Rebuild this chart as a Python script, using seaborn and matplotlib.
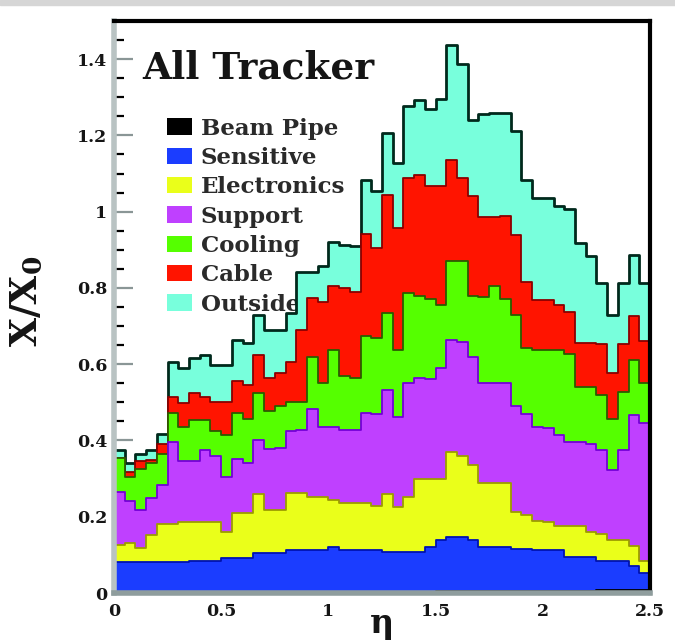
import numpy as np
import pandas as pd
import matplotlib
matplotlib.use("Agg")
import matplotlib.pyplot as plt
from matplotlib.patches import Patch, Rectangle
import seaborn as sns

# pseudorapidity binning
eta_min, eta_max, n_bins = 0.0, 2.5, 50
eta_edges = np.linspace(eta_min, eta_max, n_bins + 1)
eta_centers = 0.5 * (eta_edges[:-1] + eta_edges[1:])

# material budget per category (X/X0) in each eta bin
beam_pipe = [
    0.003, 0.003, 0.003, 0.003, 0.003, 0.003, 0.003, 0.003, 0.003, 0.003,
    0.003, 0.003, 0.003, 0.003, 0.003, 0.003, 0.003, 0.003, 0.003, 0.003,
    0.003, 0.003, 0.003, 0.003, 0.003, 0.003, 0.003, 0.003, 0.003, 0.003,
    0.004, 0.004, 0.004, 0.004, 0.004, 0.004, 0.004, 0.004, 0.004, 0.004,
    0.004, 0.004, 0.004, 0.004, 0.004, 0.007, 0.007, 0.007, 0.007, 0.007,
]
sensitive = [
    0.077, 0.077, 0.077, 0.077, 0.077, 0.077, 0.077, 0.082, 0.082, 0.082,
    0.090, 0.090, 0.090, 0.101, 0.101, 0.101, 0.109, 0.109, 0.109, 0.109,
    0.117, 0.110, 0.110, 0.110, 0.110, 0.105, 0.105, 0.105, 0.105, 0.117,
    0.134, 0.144, 0.144, 0.134, 0.116, 0.116, 0.116, 0.112, 0.112, 0.108,
    0.108, 0.108, 0.090, 0.090, 0.090, 0.076, 0.076, 0.076, 0.063, 0.045,
]
electronics = [
    0.045, 0.052, 0.038, 0.072, 0.101, 0.101, 0.107, 0.102, 0.102, 0.102,
    0.068, 0.116, 0.116, 0.156, 0.114, 0.114, 0.150, 0.150, 0.141, 0.141,
    0.124, 0.123, 0.123, 0.123, 0.114, 0.152, 0.118, 0.145, 0.192, 0.180,
    0.162, 0.222, 0.212, 0.197, 0.169, 0.169, 0.169, 0.097, 0.089, 0.078,
    0.075, 0.063, 0.081, 0.081, 0.066, 0.072, 0.057, 0.057, 0.052, 0.033,
]
support = [
    0.140, 0.110, 0.100, 0.098, 0.102, 0.216, 0.158, 0.158, 0.188, 0.173,
    0.144, 0.143, 0.133, 0.140, 0.160, 0.162, 0.163, 0.166, 0.229, 0.183,
    0.192, 0.192, 0.192, 0.236, 0.243, 0.273, 0.236, 0.297, 0.265, 0.260,
    0.290, 0.294, 0.298, 0.285, 0.261, 0.261, 0.261, 0.277, 0.265, 0.245,
    0.246, 0.240, 0.222, 0.222, 0.230, 0.220, 0.183, 0.235, 0.345, 0.361,
]
cooling = [
    0.088, 0.063, 0.107, 0.090, 0.082, 0.075, 0.091, 0.109, 0.079, 0.064,
    0.110, 0.120, 0.113, 0.125, 0.099, 0.110, 0.077, 0.074, 0.138, 0.114,
    0.201, 0.140, 0.135, 0.201, 0.198, 0.201, 0.175, 0.237, 0.215, 0.212,
    0.166, 0.206, 0.212, 0.158, 0.225, 0.254, 0.222, 0.240, 0.172, 0.203,
    0.205, 0.223, 0.230, 0.144, 0.151, 0.144, 0.134, 0.152, 0.145, 0.105,
]
cable = [
    0.002, 0.013, 0.020, 0.009, 0.025, 0.043, 0.062, 0.070, 0.061, 0.078,
    0.087, 0.085, 0.090, 0.100, 0.086, 0.086, 0.105, 0.188, 0.153, 0.213,
    0.167, 0.232, 0.227, 0.269, 0.237, 0.311, 0.320, 0.301, 0.317, 0.294,
    0.310, 0.266, 0.218, 0.262, 0.210, 0.181, 0.216, 0.210, 0.173, 0.131,
    0.131, 0.118, 0.111, 0.115, 0.115, 0.133, 0.120, 0.125, 0.114, 0.109,
]
outside = [
    0.020, 0.022, 0.020, 0.026, 0.027, 0.092, 0.091, 0.092, 0.110, 0.096,
    0.096, 0.107, 0.110, 0.105, 0.127, 0.114, 0.127, 0.153, 0.070, 0.095,
    0.116, 0.113, 0.120, 0.142, 0.148, 0.162, 0.171, 0.190, 0.195, 0.204,
    0.230, 0.300, 0.298, 0.200, 0.270, 0.275, 0.270, 0.271, 0.269, 0.267,
    0.267, 0.260, 0.269, 0.262, 0.227, 0.162, 0.153, 0.162, 0.161, 0.154,
]

categories = ["Beam Pipe", "Sensitive", "Electronics", "Support",
              "Cooling", "Cable", "Outside"]
fill_colors = ["#000000", "#1b3dff", "#eaff1a", "#bf40ff",
               "#55ff00", "#ff1400", "#78ffdc"]
edge_colors = ["#000000", "#0012b0", "#9c9c00", "#7400d8",
               "#2b5c00", "#8a0000", "#00291c"]

y_ticks = [0, 0.2, 0.4, 0.6, 0.8, 1.0, 1.2, 1.4]
y_ticklabels = ["0", "0.2", "0.4", "0.6", "0.8", "1", "1.2", "1.4"]
x_ticks = [0, 0.5, 1.0, 1.5, 2.0, 2.5]
x_ticklabels = ["0", "0.5", "1", "1.5", "2", "2.5"]

sns.set_theme(style="white")
plt.rcParams["font.family"] = ["DejaVu Serif"]
plt.rcParams["font.weight"] = "bold"
plt.rcParams["mathtext.fontset"] = "dejavuserif"
text_color = "#151515"

fig = plt.figure(figsize=(6.75, 6.44), dpi=100)
fig.patches.append(Rectangle((0, 1 - 5 / 644), 1, 5 / 644,
                             transform=fig.transFigure, color="#d6d6d6", zorder=0))
ax = fig.add_axes([114 / 675, 1 - 593 / 644, 536 / 675, 572 / 644])

# stacked histogram: draw cumulative sums from the top layer down
layers = np.array([beam_pipe, sensitive, electronics, support,
                   cooling, cable, outside])
stack = np.cumsum(layers, axis=0)
bin_list = [float(e) for e in eta_edges]
for k in reversed(range(len(categories))):
    frame = pd.DataFrame({"eta": eta_centers, "x0": stack[k]})
    sns.histplot(data=frame, x="eta", weights="x0", bins=bin_list,
                 element="step", fill=True, alpha=1,
                 color=fill_colors[k], edgecolor=edge_colors[k],
                 linewidth=2.0 if k == 6 else 1.3, ax=ax)

ax.set_xlim(eta_min, eta_max)
ax.set_ylim(0, 1.5)
ax.set_xlabel("")
ax.set_ylabel("")

ax.set_yticks(y_ticks)
ax.set_yticklabels(y_ticklabels)
ax.set_yticks(np.arange(0.05, 1.5, 0.05), minor=True)
ax.set_xticks(x_ticks)
ax.set_xticklabels(x_ticklabels)
ax.tick_params(axis="y", which="major", direction="in", left=True, right=False,
               length=14, width=1.6, color="#8a9696", labelsize=12.5,
               labelcolor=text_color, pad=5)
ax.tick_params(axis="y", which="minor", direction="in", left=True, right=False,
               length=7, width=1.6, color="black")
ax.tick_params(axis="x", which="both", length=0, labelsize=12.5,
               labelcolor=text_color, pad=7)

for side in ("top", "right"):
    ax.spines[side].set_color("black")
    ax.spines[side].set_linewidth(3)
ax.spines["left"].set_color("#b9c3c3")
ax.spines["left"].set_linewidth(4)
ax.spines["bottom"].set_color("#8f9d9d")
ax.spines["bottom"].set_linewidth(4)

ax.text(0.052, 0.900, "All Tracker", transform=ax.transAxes,
        fontsize=27, fontweight="bold", color=text_color, va="baseline")

handles = [Patch(facecolor=c, edgecolor="none") for c in fill_colors]
leg = ax.legend(handles, categories, loc="upper left",
                bbox_to_anchor=(0.099, 0.831), frameon=False,
                prop={"size": 16.5, "weight": "bold"},
                handlelength=1.1, handleheight=0.72,
                labelspacing=0.32, handletextpad=0.38,
                borderaxespad=0, borderpad=0)
for t in leg.get_texts():
    t.set_color("#2a2a2a")
leg.set_zorder(0.5)

fig.text(0.040, 0.532, r"$\mathbf{X/X_0}$", rotation=90, ha="center",
         va="center", fontsize=27, color=text_color)
fig.text(382 / 675, 1 - 633 / 644, "η", ha="center", va="baseline",
         fontsize=24, color=text_color)

fig.savefig("out.png", dpi=100)
